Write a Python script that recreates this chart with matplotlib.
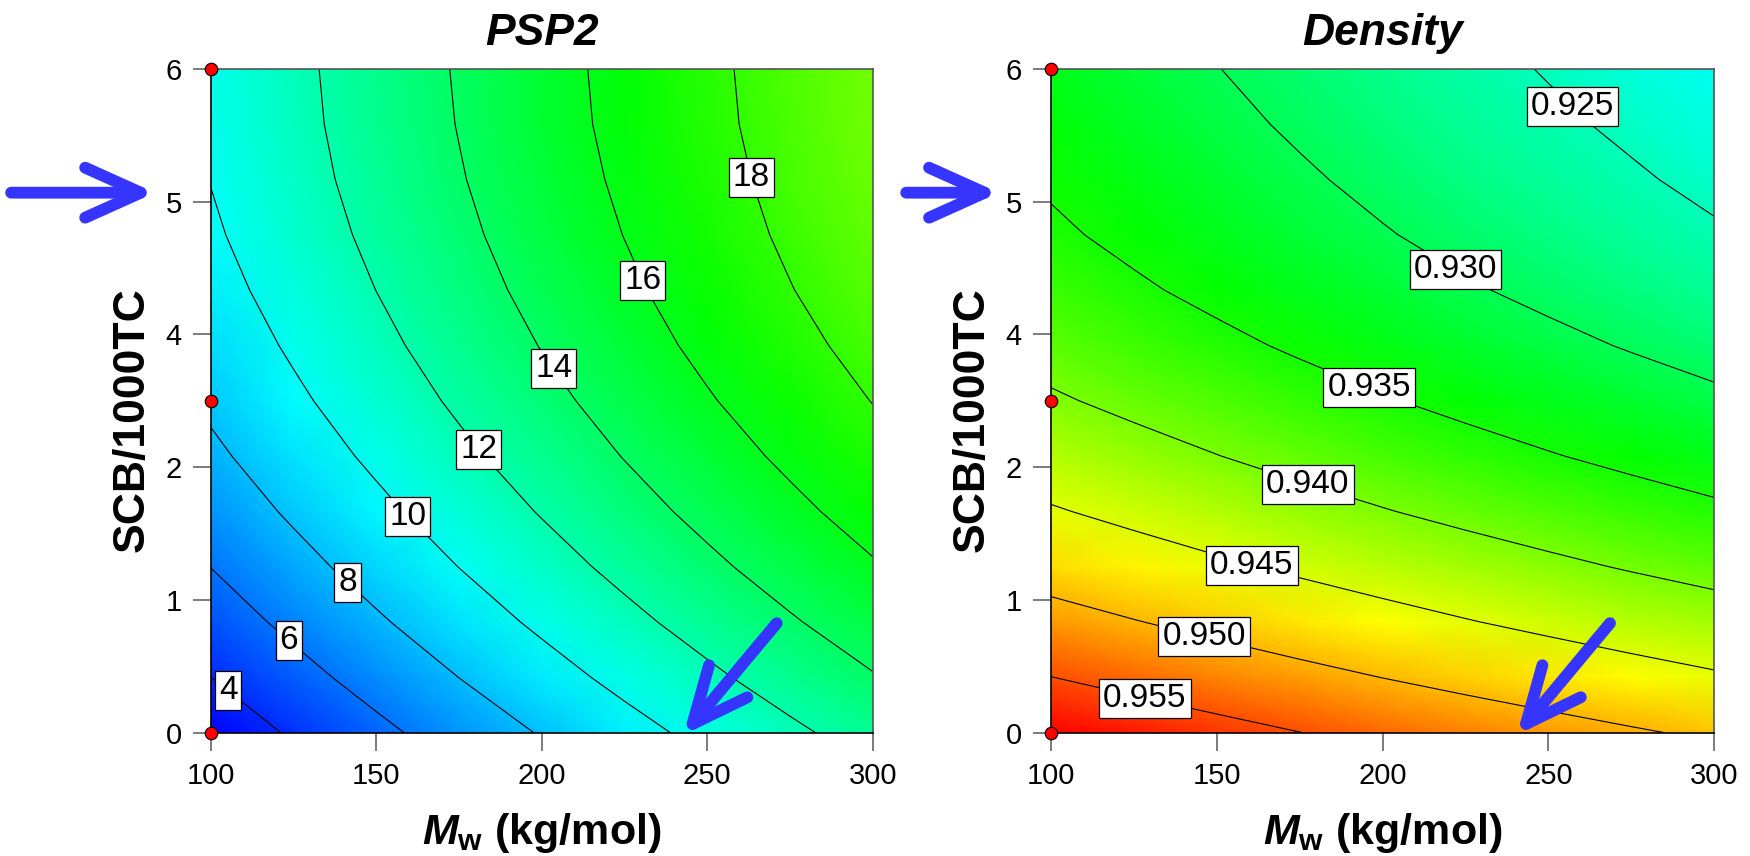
"""Two response-surface maps over Mw and SCB: PSP2 and density, with DOE points and arrows."""
import matplotlib
matplotlib.use("Agg")
import matplotlib.pyplot as plt
import numpy as np
from matplotlib.colors import LinearSegmentedColormap, Normalize

plt.rcParams["font.family"] = ["Liberation Sans", "DejaVu Sans"]
plt.rcParams["mathtext.fontset"] = "custom"
plt.rcParams["mathtext.it"] = "Liberation Sans:italic:bold"
plt.rcParams["mathtext.rm"] = "Liberation Sans:bold"
plt.rcParams["mathtext.bf"] = "Liberation Sans:bold"

# grid the maps were read on
MW = [100, 125, 150, 175, 200, 225, 250, 275, 300]
SCB = [0.0, 0.5, 1.0, 1.5, 2.0, 2.5, 3.0, 3.5, 4.0, 4.5, 5.0, 5.5, 6.0]

# PSP2, one row per SCB value
PSP2 = [
    [2.83, 4.21, 5.56, 6.86, 8.12, 9.35, 10.52, 11.66, 12.76],
    [3.99, 5.37, 6.71, 8.01, 9.27, 10.49, 11.66, 12.80, 13.89],
    [5.06, 6.43, 7.77, 9.07, 10.32, 11.53, 12.70, 13.83, 14.92],
    [6.02, 7.40, 8.73, 10.02, 11.27, 12.47, 13.64, 14.77, 15.85],
    [6.89, 8.26, 9.58, 10.87, 12.11, 13.32, 14.48, 15.60, 16.68],
    [7.65, 9.02, 10.34, 11.62, 12.86, 14.06, 15.22, 16.33, 17.41],
    [8.32, 9.68, 11.00, 12.27, 13.51, 14.70, 15.86, 16.97, 18.04],
    [8.88, 10.24, 11.55, 12.83, 14.06, 15.25, 16.40, 17.50, 18.57],
    [9.37, 10.71, 12.01, 13.28, 14.50, 15.69, 16.83, 17.94, 19.00],
    [9.76, 11.08, 12.37, 13.63, 14.85, 16.03, 17.17, 18.27, 19.33],
    [10.04, 11.35, 12.64, 13.89, 15.10, 16.28, 17.41, 18.51, 19.56],
    [10.20, 11.52, 12.81, 14.06, 15.28, 16.45, 17.58, 18.67, 19.72],
    [10.27, 11.60, 12.89, 14.14, 15.35, 16.52, 17.65, 18.73, 19.78],
]

# density, one row per SCB value
DENSITY = [
    [0.95893, 0.95760, 0.95631, 0.95505, 0.95384, 0.95266, 0.95153, 0.95043, 0.94937],
    [0.95505, 0.95372, 0.95243, 0.95117, 0.94996, 0.94878, 0.94765, 0.94654, 0.94548],
    [0.95149, 0.95016, 0.94886, 0.94760, 0.94639, 0.94521, 0.94407, 0.94297, 0.94191],
    [0.94825, 0.94691, 0.94562, 0.94435, 0.94313, 0.94195, 0.94081, 0.93970, 0.93864],
    [0.94533, 0.94399, 0.94269, 0.94141, 0.94019, 0.93900, 0.93786, 0.93675, 0.93567],
    [0.94273, 0.94138, 0.94007, 0.93879, 0.93757, 0.93637, 0.93522, 0.93410, 0.93302],
    [0.94046, 0.93910, 0.93779, 0.93650, 0.93526, 0.93406, 0.93290, 0.93177, 0.93068],
    [0.93850, 0.93713, 0.93581, 0.93451, 0.93326, 0.93205, 0.93088, 0.92974, 0.92865],
    [0.93687, 0.93549, 0.93415, 0.93285, 0.93159, 0.93036, 0.92918, 0.92803, 0.92690],
    [0.93556, 0.93417, 0.93282, 0.93150, 0.93023, 0.92899, 0.92775, 0.92655, 0.92540],
    [0.93456, 0.93316, 0.93179, 0.93046, 0.92915, 0.92787, 0.92662, 0.92540, 0.92420],
    [0.93372, 0.93228, 0.93088, 0.92951, 0.92818, 0.92688, 0.92562, 0.92440, 0.92322],
    [0.93295, 0.93149, 0.93007, 0.92869, 0.92735, 0.92604, 0.92478, 0.92355, 0.92238],
]

PSP2_LEVELS = [4, 6, 8, 10, 12, 14, 16, 18]
DENSITY_LEVELS = [0.925, 0.930, 0.935, 0.940, 0.945, 0.950, 0.955]

# design points on the Mw = 100 edge
DESIGN_MW = [100, 100, 100]
DESIGN_SCB = [0, 3, 6]

X_TICKS = [100, 150, 200, 250, 300]
# the y ticks sit evenly over the axis but carry these labels
Y_TICK_LABELS = ["0", "1", "2", "4", "5", "6"]

# where the contour labels sit
PSP2_LABEL_POS = [(108.2, 0.49), (126.7, 0.94), (144.4, 1.46), (162.7, 2.05),
                  (184.4, 2.64), (203.7, 3.29), (230.2, 4.08), (263.9, 5.02)]
DENSITY_LABEL_POS = [(256.6, 5.64), (223.6, 4.26), (196.4, 3.15), (177.1, 2.21),
                     (160.0, 1.455), (146.4, 0.90), (128.9, 0.395)]

ARROW_BLUE = "#3535ff"
CMAP = LinearSegmentedColormap.from_list(
    "hue", ["#0000ff", "#00ffff", "#00ff00", "#ffff00", "#ff0000"])


def arrow(ax, tail, tip):
    ax.annotate("", xy=tip, xytext=tail, xycoords="data", textcoords="data",
                annotation_clip=False,
                arrowprops=dict(arrowstyle="->,head_length=4.0,head_width=1.8",
                                mutation_scale=10, color=ARROW_BLUE, lw=8.5,
                                shrinkA=0, shrinkB=0, capstyle="round",
                                joinstyle="round"), zorder=8)


def draw_panel(ax, z, norm, levels, fmt, label_pos, title, arrow_out, arrow_in):
    m, s = np.meshgrid(MW, SCB)
    z = np.asarray(z)
    ax.pcolormesh(m, s, z, shading="gouraud", cmap=CMAP, norm=norm)
    cs = ax.contour(m, s, z, levels=levels, colors="black", linewidths=0.8)
    texts = ax.clabel(cs, levels, inline=False, fmt=fmt, fontsize=24,
                      manual=label_pos)
    for t in texts:
        t.set_rotation(0)
        t.set_bbox(dict(boxstyle="square,pad=0.12", fc="white", ec="black", lw=0.9))
        t.set_zorder(6)

    ax.plot(DESIGN_MW, DESIGN_SCB, "o", color="#ff0000", mec="black", mew=0.8,
            ms=9, clip_on=False, zorder=10)

    ax.set_xlim(100, 300)
    ax.set_ylim(0, 6)
    ax.set_xticks(X_TICKS)
    ax.set_yticks(np.linspace(0, 6, len(Y_TICK_LABELS)))
    ax.set_yticklabels(Y_TICK_LABELS)
    ax.tick_params(direction="out", length=13, width=1.2, color="#666666",
                   labelsize=21, pad=8)
    for side in ("top", "right"):
        ax.spines[side].set_color("#555555")
    for side in ("left", "bottom"):
        ax.spines[side].set_color("black")
    for sp in ax.spines.values():
        sp.set_linewidth(1.2)
        sp.set_zorder(7)

    ax.set_title(title, fontsize=32, fontweight="bold", fontstyle="italic", pad=17)
    ax.set_xlabel(r"$M_\mathrm{w}$ (kg/mol)", fontsize=31, fontweight="bold",
                  labelpad=15)
    ax.set_ylabel("SCB/1000TC", fontsize=32, fontweight="bold", labelpad=9)
    ax.yaxis.label.set_y(0.472)  # sits a little below the middle in the original

    arrow(ax, *arrow_out)
    arrow(ax, *arrow_in)


def main() -> None:
    fig = plt.figure(figsize=(17.5, 8.56), dpi=100)
    ax_l = fig.add_axes([0.1204, 0.144, 0.3783, 0.7757])
    ax_r = fig.add_axes([0.6006, 0.144, 0.3789, 0.7757])

    draw_panel(ax_l, PSP2, Normalize(2.83, 30.5), PSP2_LEVELS, "%d",
               PSP2_LABEL_POS, "PSP2",
               ((39.7, 4.88), (83.2, 4.88)), ((271.0, 0.99), (242.8, -0.02)))
    draw_panel(ax_r, DENSITY, Normalize(0.90925, 0.95893), DENSITY_LEVELS, "%.3f",
               DENSITY_LABEL_POS, "Density",
               ((56.3, 4.88), (84.3, 4.88)), ((268.6, 0.99), (240.5, -0.02)))

    fig.savefig("out.png", dpi=100, facecolor="white")


if __name__ == "__main__":
    main()
